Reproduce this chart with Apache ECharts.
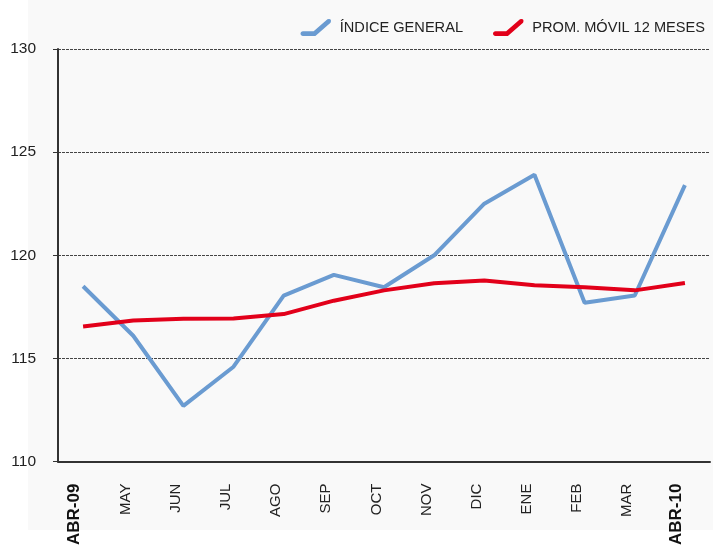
<!DOCTYPE html>
<html>
<head>
<meta charset="utf-8">
<title>Índice general</title>
<script src="https://cdn.jsdelivr.net/npm/echarts@6/dist/echarts.min.js"></script>
<style>
  html, body { margin: 0; padding: 0; background: #fff; }
  #chart { width: 713px; height: 548px; }
</style>
</head>
<body>
<div id="chart"></div>
<script>
// datos
const meses = ["ABR-09", "MAY", "JUN", "JUL", "AGO", "SEP", "OCT", "NOV", "DIC", "ENE", "FEB", "MAR", "ABR-10"];
const indiceGeneral = [118.5, 116.1, 112.7, 114.6, 118.05, 119.05, 118.45, 120.0, 122.5, 123.9, 117.7, 118.05, 123.4];
const promMovil = [116.55, 116.84, 116.93, 116.94, 117.15, 117.8, 118.3, 118.65, 118.78, 118.55, 118.45, 118.3, 118.66];
const ejeY = { min: 110, max: 130, paso: 5 };

const fuente = "'Liberation Sans Narrow', 'Liberation Sans', Arial, sans-serif";
// icono de la leyenda: trazo horizontal y luego diagonal
const icono = "path://M2,17.5 C0.6,17.5 -0.5,16.4 -0.5,15 C-0.5,13.6 0.6,12.5 2,12.5 L13.1,12.5 L27.4,0.1 Q32.4,-1 30.6,3.9 L14.9,17.5 Z";

const chart = echarts.init(document.getElementById("chart"));

const option = {
  animation: false,
  graphic: {
    elements: [
      {
        type: "rect",
        z: -100,
        silent: true,
        shape: { x: 28, y: 0, width: 685, height: 530 },
        style: { fill: "#f9f9f9" },
      },
    ],
  },
  legend: {
    right: 3,
    top: 14,
    icon: icono,
    itemWidth: 32,
    itemHeight: 17,
    itemGap: 30,
    textStyle: {
      fontFamily: fuente,
      fontSize: 14.6,
      color: "#222",
      padding: [0, 0, 0, 3],
    },
    data: ["ÍNDICE GENERAL", "PROM. MÓVIL 12 MESES"],
  },
  grid: {
    left: 58,
    right: 3,
    top: 49,
    bottom: 86,
  },
  xAxis: {
    type: "category",
    data: meses,
    boundaryGap: true,
    axisLine: { lineStyle: { color: "#333", width: 2 } },
    axisTick: { length: 6, lineStyle: { color: "#333", width: 1 } },
    axisLabel: {
      interval: 0,
      rotate: 90,
      margin: 22,
      verticalAlign: "bottom",
      fontFamily: fuente,
      fontSize: 15,
      color: "#222",
      formatter: function (v, i) {
        return i === 0 || i === meses.length - 1 ? "{b|" + v + "}" : v;
      },
      rich: {
        b: {
          fontFamily: "'Liberation Sans', Arial, sans-serif",
          fontWeight: "bold",
          fontSize: 17,
          color: "#111",
        },
      },
    },
  },
  yAxis: {
    type: "value",
    min: ejeY.min,
    max: ejeY.max,
    interval: ejeY.paso,
    axisLine: { show: true, lineStyle: { color: "#333", width: 2 } },
    axisTick: { show: true, length: 5, lineStyle: { color: "#333", width: 1 } },
    axisLabel: {
      margin: 22,
      fontFamily: fuente,
      fontSize: 15.5,
      color: "#222",
    },
    splitLine: {
      lineStyle: { color: "#444", width: 1, type: [3, 1] },
    },
  },
  series: [
    {
      name: "ÍNDICE GENERAL",
      type: "line",
      data: indiceGeneral,
      symbol: "none",
      color: "#6a9bd1",
      lineStyle: { width: 4, color: "#6a9bd1" },
      itemStyle: { color: "#6a9bd1" },
    },
    {
      name: "PROM. MÓVIL 12 MESES",
      type: "line",
      data: promMovil,
      symbol: "none",
      color: "#e2001a",
      lineStyle: { width: 4, color: "#e2001a" },
      itemStyle: { color: "#e2001a" },
    },
  ],
};

chart.setOption(option);
</script>
</body>
</html>
